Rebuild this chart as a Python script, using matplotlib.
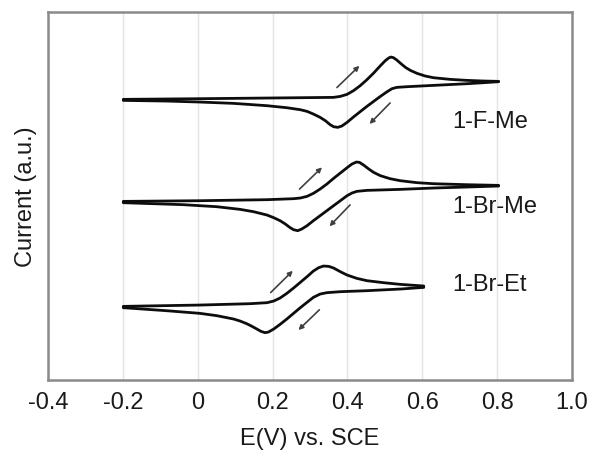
import matplotlib
matplotlib.use("Agg")
import matplotlib.pyplot as plt

plt.rcParams['font.family'] = ['Liberation Sans', 'DejaVu Sans']

# Cyclic voltammograms (potential in V vs. SCE, current in arbitrary units, stacked)
# 1-F-Me
fme_fwd_E = [-0.199, 0.006, 0.185, 0.363, 0.381, 0.399, 0.416, 0.434, 0.452, 0.470,
             0.488, 0.501, 0.510, 0.516, 0.523, 0.532, 0.541, 0.555, 0.568, 0.586,
             0.608, 0.630, 0.675, 0.719, 0.764, 0.804]
fme_fwd_I = [76.18, 76.36, 76.54, 76.72, 76.99, 77.54, 78.53, 79.89, 81.52, 83.33,
             85.32, 86.68, 87.41, 87.68, 87.50, 86.86, 86.05, 84.87, 84.06, 83.24,
             82.52, 82.06, 81.61, 81.34, 81.16, 81.07]
fme_rev_E = [0.804, 0.764, 0.719, 0.630, 0.559, 0.532, 0.519, 0.506, 0.488, 0.470,
             0.452, 0.434, 0.416, 0.399, 0.385, 0.374, 0.363, 0.354, 0.341, 0.327,
             0.309, 0.292, 0.274, 0.238, 0.185, 0.096, 0.006, -0.083, -0.199]
fme_rev_I = [80.98, 80.71, 80.43, 79.98, 79.62, 79.44, 79.08, 78.26, 76.99, 75.63,
             74.27, 72.83, 71.38, 69.93, 68.93, 68.57, 68.75, 69.29, 70.38, 71.29,
             72.19, 72.92, 73.37, 73.91, 74.46, 75.09, 75.45, 75.72, 75.90]

# 1-Br-Me
brme_fwd_E = [-0.199, 0.006, 0.185, 0.256, 0.274, 0.292, 0.309, 0.327, 0.345, 0.363,
              0.381, 0.399, 0.412, 0.424, 0.432, 0.443, 0.457, 0.470, 0.488, 0.514,
              0.541, 0.586, 0.630, 0.719, 0.804]
brme_fwd_I = [48.46, 48.64, 48.92, 49.19, 49.37, 49.82, 50.64, 51.81, 53.17, 54.71,
              56.16, 57.61, 58.61, 59.15, 59.06, 58.34, 57.25, 56.34, 55.44, 54.62,
              54.08, 53.54, 53.26, 52.99, 52.81]
brme_rev_E = [0.804, 0.719, 0.630, 0.541, 0.452, 0.425, 0.412, 0.399, 0.381, 0.363,
              0.345, 0.327, 0.309, 0.292, 0.278, 0.267, 0.256, 0.247, 0.234, 0.220,
              0.203, 0.185, 0.149, 0.113, 0.051, -0.038, -0.199]
brme_rev_I = [52.63, 52.36, 52.09, 51.72, 51.45, 51.18, 50.73, 50.00, 48.64, 47.29,
              45.93, 44.57, 43.21, 41.85, 40.95, 40.49, 40.77, 41.31, 42.31, 43.21,
              44.03, 44.75, 45.66, 46.29, 47.01, 47.56, 48.10]

# 1-Br-Et
bret_fwd_E = [-0.199, 0.006, 0.140, 0.185, 0.203, 0.220, 0.238, 0.256, 0.274, 0.292,
              0.309, 0.323, 0.336, 0.350, 0.363, 0.381, 0.399, 0.425, 0.452, 0.497,
              0.541, 0.604]
bret_fwd_I = [19.93, 20.29, 20.66, 20.93, 21.38, 22.20, 23.46, 24.91, 26.45, 27.99,
              29.53, 30.44, 30.89, 30.80, 30.35, 29.35, 28.45, 27.54, 26.91, 26.36,
              25.91, 25.46]
bret_rev_E = [0.604, 0.541, 0.452, 0.381, 0.345, 0.327, 0.309, 0.292, 0.274, 0.256,
              0.238, 0.220, 0.203, 0.189, 0.180, 0.169, 0.158, 0.145, 0.131, 0.113,
              0.096, 0.051, 0.006, -0.083, -0.199]
bret_rev_I = [25.09, 24.64, 24.19, 23.92, 23.65, 23.28, 22.38, 21.02, 19.57, 18.03,
              16.49, 15.04, 13.77, 12.96, 12.78, 13.14, 13.77, 14.50, 15.22, 15.95,
              16.49, 17.40, 18.03, 18.75, 19.57]

curve_names = ["1-F-Me", "1-Br-Me", "1-Br-Et"]
label_E = [0.680, 0.680, 0.680]
label_I = [70.4, 47.3, 26.0]

# scan-direction arrows: (E_start, I_start, E_end, I_end)
scan_arrows = [
    (0.372, 79.4, 0.432, 85.3), (0.514, 75.2, 0.459, 69.5),
    (0.272, 51.8, 0.332, 57.7), (0.407, 47.5, 0.352, 41.7),
    (0.195, 23.7, 0.254, 29.6), (0.325, 19.0, 0.269, 13.5),
]

x_ticks = [-0.4, -0.2, 0.0, 0.2, 0.4, 0.6, 0.8, 1.0]
x_ticklabels = ["-0.4", "-0.2", "0", "0.2", "0.4", "0.6", "0.8", "1.0"]

fig = plt.figure(figsize=(5.9, 4.52), dpi=100)
ax = fig.add_axes([0.0814, 0.1577, 0.8881, 0.8142])

for E, I in [(fme_fwd_E, fme_fwd_I), (fme_rev_E, fme_rev_I),
             (brme_fwd_E, brme_fwd_I), (brme_rev_E, brme_rev_I),
             (bret_fwd_E, bret_fwd_I), (bret_rev_E, bret_rev_I)]:
    ax.plot(E, I, color='#0d0d0d', lw=2.0, solid_joinstyle='round',
            solid_capstyle='round', zorder=3)

for x0, y0, x1, y1 in scan_arrows:
    ax.annotate('', xy=(x1, y1), xytext=(x0, y0),
                arrowprops=dict(arrowstyle='-|>', color='#404040', lw=1.2,
                                mutation_scale=7, shrinkA=0, shrinkB=0),
                zorder=4)

for name, e, i in zip(curve_names, label_E, label_I):
    ax.text(e, i, name, fontsize=17, color='#1a1a1a', ha='left', va='center')

ax.set_xlim(-0.4, 1.0)
ax.set_ylim(0, 100)
ax.set_xticks(x_ticks)
ax.set_xticklabels(x_ticklabels, fontsize=17, color='#1a1a1a')
ax.set_yticks([])
ax.tick_params(axis='x', length=0, pad=8)
for xg in x_ticks[1:-1]:
    ax.axvline(xg, color='#e3e3e3', lw=1.0, zorder=1)
for s in ax.spines.values():
    s.set_color('#8a8a8a')
    s.set_linewidth(1.8)

ax.set_xlabel("E(V) vs. SCE", fontsize=17, color='#1a1a1a', labelpad=10)
ax.set_ylabel("Current (a.u.)", fontsize=17, color='#1a1a1a', labelpad=8)

fig.savefig("out.png", dpi=100)
